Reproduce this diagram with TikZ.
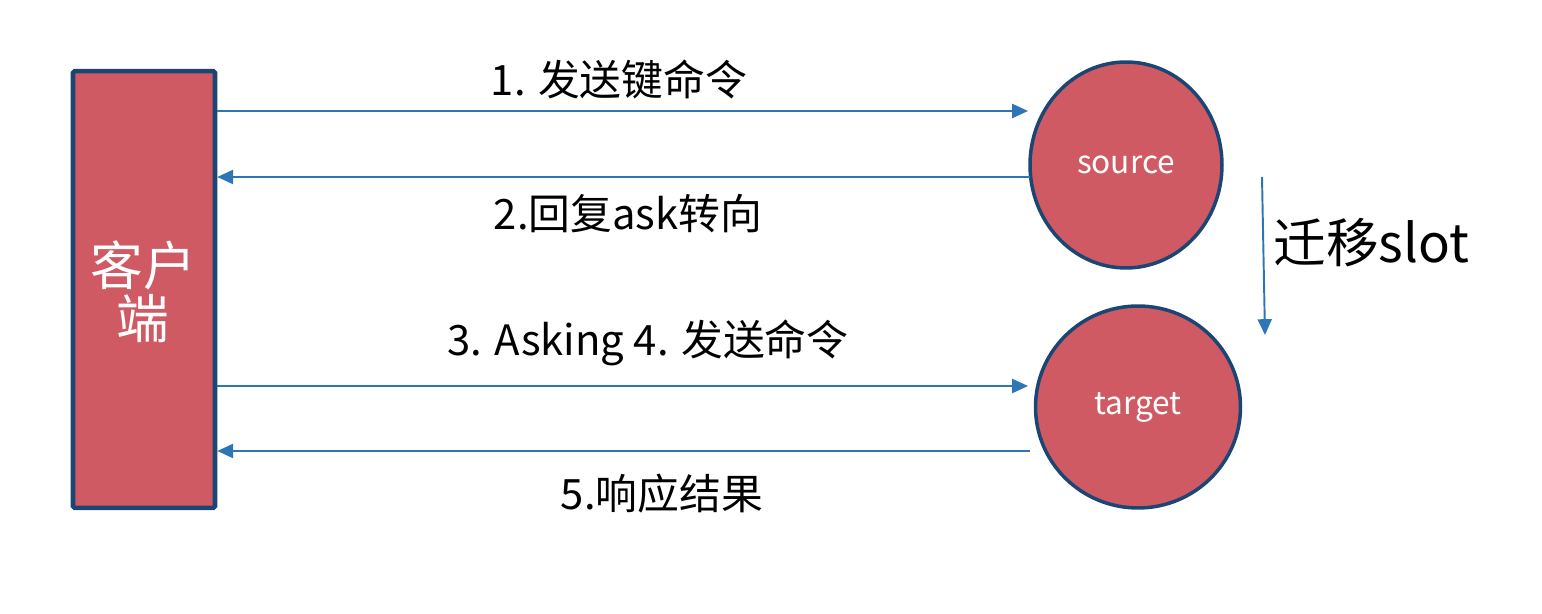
\documentclass[tikz,border=0pt]{standalone}
\usepackage{fontspec}
\setmainfont{Noto Sans CJK SC}
\usetikzlibrary{arrows.meta,shapes.geometric}
\definecolor{fillred}{HTML}{D05A63}
\definecolor{edgeblue}{HTML}{1B4673}
\definecolor{lineblue}{HTML}{2E75B6}
\tikzset{
  box/.style={draw=edgeblue, line width=2.6pt, fill=fillred, rounded corners=1pt, inner sep=0pt},
  ball/.style={ellipse, draw=edgeblue, line width=2pt, fill=fillred, inner sep=0pt},
  arr/.style={draw=lineblue, line width=1.1pt, -{Triangle[length=9pt,width=8pt]}},
  lbl/.style={font=\fontsize{23.8}{28}\selectfont, text=black, inner sep=0pt},
  wlbl/.style={text=white, inner sep=0pt}
}
\begin{document}
\begin{tikzpicture}[x=0.02cm,y=-0.02cm]
\useasboundingbox (0,0) rectangle (1542,614);
\node[box, minimum width=2.84cm, minimum height=8.74cm] (client) at (144,289.5) {};
\node[wlbl, font=\fontsize{30}{33}\selectfont, align=center] (clabel) at (143,292) {客户\\[-3pt]端};
\node[ball, minimum width=3.84cm, minimum height=4.12cm] (source) at (1126,165) {};
\node[wlbl, font=\fontsize{18}{20}\selectfont] (stext) at (source.center) {source};
\node[ball, minimum width=4.1cm, minimum height=4.04cm] (target) at (1138,407) {};
\node[wlbl, font=\fontsize{18}{20}\selectfont] (ttext) at (target.center) {target};
\coordinate (e1) at (1028,111);
\coordinate (s2) at (1030,177);
\coordinate (e3) at (1028,386);
\coordinate (s5) at (1030,451);
\coordinate (v1) at (1262,177);
\coordinate (v2) at (1265,335);
\draw[arr] (client.east |- e1) -- (e1);
\draw[arr] (s2) -- (client.east |- s2);
\draw[arr] (client.east |- e3) -- (e3);
\draw[arr] (s5) -- (client.east |- s5);
\draw[arr] (v1) -- (v2);
\node[lbl] (l1) at (619,79) {1. 发送键命令};
\node[lbl] (l2) at (628,214) {2.回复ask转向};
\node[lbl] (l3) at (648,343) {3. Asking 4. 发送命令};
\node[lbl] (l5) at (662,494) {5.响应结果};
\node[lbl, font=\fontsize{30}{33}\selectfont, anchor=west] (l6) at (1273,243) {迁移slot};
\end{tikzpicture}
\end{document}
